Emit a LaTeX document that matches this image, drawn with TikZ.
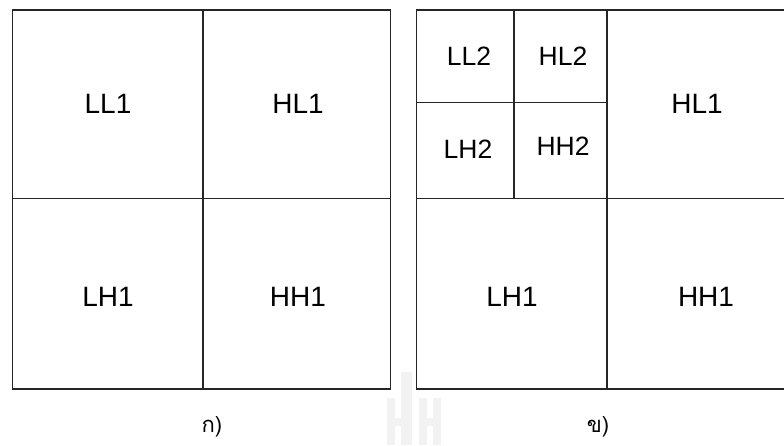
\documentclass[tikz,border=0pt]{standalone}
\usepackage{fontspec}
\setmainfont{Liberation Sans}
\newfontfamily\thaifont[Script=Thai]{Loma}
\begin{document}
\begin{tikzpicture}[x=1pt,y=-1pt,
  grid/.style={draw=black!85,line width=1.6pt,line join=miter},
  lbl/.style={font=\fontsize{26.5}{28}\selectfont,inner sep=0pt},
  lblb/.style={font=\fontsize{28}{30}\selectfont,inner sep=0pt},
  captext/.style={font=\thaifont\fontsize{22}{26}\selectfont,inner sep=0pt},
  wm/.style={fill=black!5,draw=none}]
\useasboundingbox (0,0) rectangle (784,445);
% watermark
\fill[wm] (387,398) rectangle (395,445);
\fill[wm] (401,372) rectangle (412,445);
\fill[wm] (419,398) rectangle (427,445);
\fill[wm] (433,398) rectangle (441,445);
\fill[wm] (395,418) rectangle (401,426);
\fill[wm] (427,418) rectangle (433,426);
% left square
\coordinate (a1) at (12.5,10);
\coordinate (a2) at (390.5,389);
\draw[grid] (a1) rectangle (a2);
\draw[grid] (203,10) -- (203,389);
\draw[grid] (12.5,198.5) -- (390.5,198.5);
\node[lblb] (ll1) at (108,104) {LL1};
\node[lblb] (hl1) at (298,104) {HL1};
\node[lblb] (lh1) at (108,297) {LH1};
\node[lblb] (hh1) at (298,297) {HH1};
% right square
\coordinate (b1) at (416.5,10);
\coordinate (b2) at (786,389);
\draw[grid] (b1) rectangle (b2);
\draw[grid] (607,10) -- (607,389);
\draw[grid] (416.5,198.5) -- (786,198.5);
\draw[grid] (514,10) -- (514,198.5);
\draw[grid] (416.5,102.5) -- (607,102.5);
\node[lbl] (ll2) at (469,56) {LL2};
\node[lbl] (hl2) at (563,56) {HL2};
\node[lbl] (lh2) at (468,149) {LH2};
\node[lbl] (hh2) at (563,146) {HH2};
\node[lblb] (rhl1) at (697,104) {HL1};
\node[lblb] (rlh1) at (512,297) {LH1};
\node[lblb] (rhh1) at (706,297) {HH1};
% captions
\node[captext,anchor=base] (ca) at (212,432) {ก)};
\node[captext,anchor=base] (cb) at (598,432) {ข)};
\end{tikzpicture}
\end{document}
